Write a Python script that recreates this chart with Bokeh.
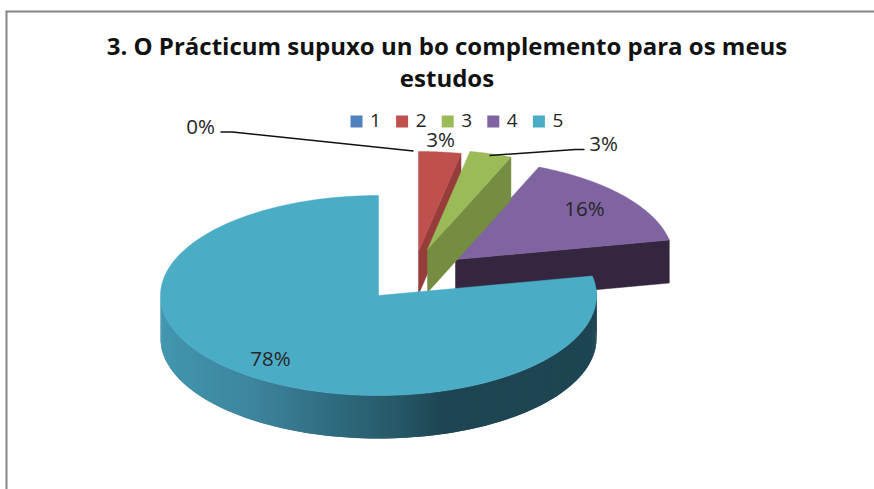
import numpy as np
from bokeh.plotting import figure
from bokeh.models import Range1d
from bokeh.core.properties import value
from bokeh.embed import file_html
from bokeh.resources import INLINE

# ---- data ----
categories = ["1", "2", "3", "4", "5"]
counts = [0, 1, 1, 5, 25]
title_lines = ["3. O Prácticum supuxo un bo complemento para os meus", "estudos"]

# ---- style ----
top_colors = ["#4f81bd", "#c0504d", "#9bbb59", "#8064a2", "#4bacc6"]
wall_colors = ["#3a6491", "#963c3a", "#748d41", "#35263f", "#1e4552"]
wall_stops_x = [160, 180, 250, 340, 390, 440, 600]
wall_stops_rgb = [(0x43, 0x97, 0xb0), (0x41, 0x93, 0xab), (0x3e, 0x85, 0x9e),
                  (0x2e, 0x68, 0x7b), (0x27, 0x5a, 0x6a), (0x1e, 0x45, 0x52), (0x1e, 0x45, 0x52)]
TXT = "#262626"

# ---- layout (pixels of the page) ----
W, H = 874, 489
CX, CY, RX, RY, DEPTH = 378.0, 295.0, 218.0, 100.0, 43.0
offset_px = {"1": (40, -44), "2": (40, -44), "3": (49, -46), "4": (77, -36), "5": (0, 0)}
label_xy = {"1": (200, 125), "2": (440, 138), "3": (603, 142), "4": (584, 207), "5": (270, 357)}
leaders = {"1": ([220, 232, 413], [131.5, 131.5, 150.5]), "3": ([489, 575, 584], [155, 149, 149])}
LEG_X0, LEG_DX, LEG_Y, LEG_S = 356, 45.6, 121, 12

p = figure(width=W, height=H, x_range=Range1d(0, W), y_range=Range1d(H, 0),
           toolbar_location=None, output_backend="svg", min_border=0,
           outline_line_color=None, background_fill_color="white")
p.xaxis.visible = False
p.yaxis.visible = False
p.grid.visible = False

def font():
    return value("Open Sans")

# frame
p.multi_line([[6, 6], [5, W]], [[H, 11], [11, 11]], line_color="#868686", line_width=2)

# slice angles (clockwise from 12 o'clock)
total = sum(counts)
fr = np.cumsum([0] + counts) / total * 2 * np.pi

def px(cx, t):
    return cx + RX * np.sin(t)
def py(cy, t):
    return cy - RY * np.cos(t)

# draw order: 4, 2, 3, 5
for i in [3, 1, 2, 4]:
    if counts[i] == 0:
        continue
    name = categories[i]
    dx, dy = offset_px[name]
    cx, cy = CX + dx, CY + dy
    t0, t1 = fr[i], fr[i + 1]
    if i == 4:
        # outer wall, front half, with its gradient; every band overlaps the one before it
        ts = np.linspace(t0, 1.5 * np.pi, 220)
        for j in range(len(ts) - 1):
            a, b = ts[max(j - 1, 0)], ts[j + 1]
            xm = px(cx, (ts[j] + ts[j + 1]) / 2)
            rgb = [np.interp(xm, wall_stops_x, [s[k] for s in wall_stops_rgb]) for k in range(3)]
            col = "#%02x%02x%02x" % tuple(int(v) for v in rgb)
            xs = [px(cx, a), px(cx, b), px(cx, b), px(cx, a)]
            ys = [py(cy, a), py(cy, b), py(cy, b) + DEPTH, py(cy, a) + DEPTH]
            p.patch(xs, ys, fill_color=col, line_color=None)
    else:
        # radial wall at the clockwise end of the slice
        xs = [cx, px(cx, t1), px(cx, t1), cx]
        ys = [cy, py(cy, t1), py(cy, t1) + DEPTH, cy + DEPTH]
        p.patch(xs, ys, fill_color=wall_colors[i], line_color=wall_colors[i], line_width=0.5)
    ts = np.linspace(t0, t1, 160)
    xs = np.concatenate([[cx], px(cx, ts)])
    ys = np.concatenate([[cy], py(cy, ts)])
    p.patch(xs, ys, fill_color=top_colors[i], line_color=top_colors[i], line_width=0.5)

# leaders
for k, (xs, ys) in leaders.items():
    p.line(xs, ys, line_color="#111111", line_width=1.6)

# percentage labels
for name, c in zip(categories, counts):
    x, y = label_xy[name]
    p.text([x], [y], text=[f"{round(100 * c / total)}%"], text_font=font(), text_font_size="20.5px",
           text_color=TXT, text_align="center", text_baseline="middle")

# legend
for i, name in enumerate(categories):
    lx = LEG_X0 + LEG_DX * i
    p.rect([lx], [LEG_Y], width=LEG_S, height=LEG_S, fill_color=top_colors[i], line_color=None)
    p.text([lx + 19], [LEG_Y - 1], text=[name], text_font=font(), text_font_size="19px",
           text_color=TXT, text_align="center", text_baseline="middle")

# title
for line, y in zip(title_lines, [45, 77]):
    p.text([446.5], [y], text=[line], text_font=font(), text_font_size="24px", text_font_style="bold",
           text_color="#111111", text_align="center", text_baseline="middle")

open("out.html", "w").write(file_html(p, INLINE))
